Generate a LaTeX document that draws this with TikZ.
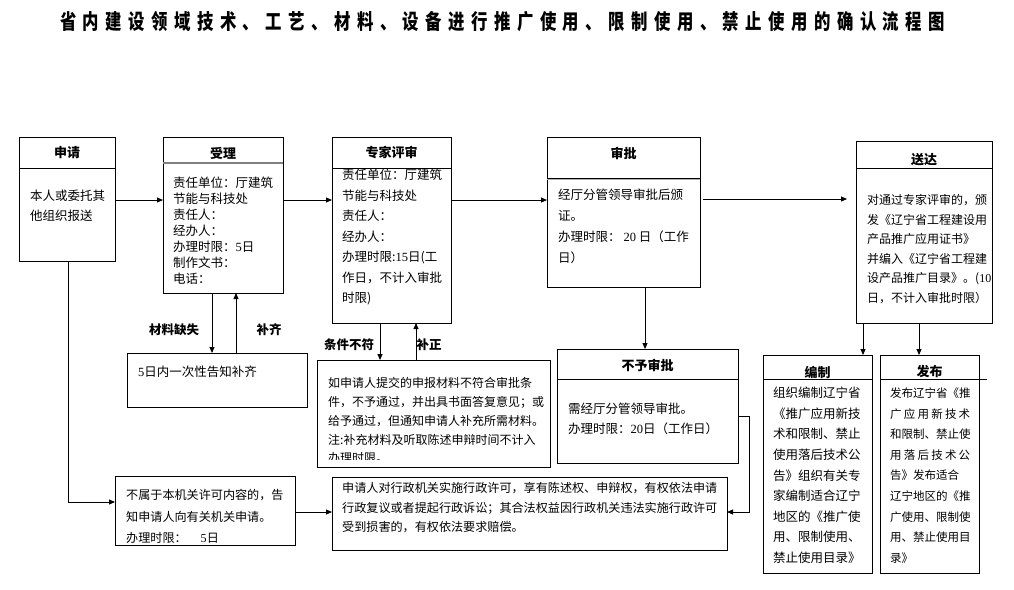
\documentclass[tikz,border=0pt]{standalone}
\usepackage{fontspec}
\usetikzlibrary{arrows.meta}
\newfontfamily\cjk{Noto Sans CJK SC}
\newfontfamily\numf{Liberation Serif}
\newfontfamily\titlef{Noto Sans CJK SC}[FakeStretch=0.78]
\newcommand\dg[1]{{\numf #1}}
\tikzset{
  bx/.style={draw, line width=1pt, anchor=north west, inner sep=0pt, outer sep=0pt},
  hline/.style={line width=1pt},
  hd/.style={font=\cjk\bfseries\fontsize{13pt}{13pt}\selectfont, inner sep=0pt},
  lab/.style={font=\cjk\bfseries\fontsize{12.5pt}{12.5pt}\selectfont, inner sep=0pt},
  txtb/.style n args={2}{anchor=north west, inner sep=0pt, align=left, font=\cjk\fontsize{#1pt}{#2pt}\selectfont},
  arr/.style={line width=0.9pt, -{Triangle[length=6pt,width=5pt]}},
  ln/.style={line width=0.9pt}
}
\begin{document}
\begin{tikzpicture}[x=1pt,y=-1pt]
\useasboundingbox (0,0) rectangle (1014,589);
% title
\node[font=\titlef\bfseries\fontsize{21pt}{21pt}\selectfont, inner sep=0pt] (title) at (502.5,22)
 {\hbox to 885pt{省\hfill 内\hfill 建\hfill 设\hfill 领\hfill 域\hfill 技\hfill 术\hfill 、\hfill 工\hfill 艺\hfill 、\hfill 材\hfill 料\hfill 、\hfill 设\hfill 备\hfill 进\hfill 行\hfill 推\hfill 广\hfill 使\hfill 用\hfill 、\hfill 限\hfill 制\hfill 使\hfill 用\hfill 、\hfill 禁\hfill 止\hfill 使\hfill 用\hfill 的\hfill 确\hfill 认\hfill 流\hfill 程\hfill 图}};

% boxes
\node[bx, minimum width=96pt, minimum height=124pt] (sq) at (19,137) {};
\node[bx, minimum width=120pt, minimum height=156pt] (sl) at (163,137) {};
\node[bx, minimum width=119pt, minimum height=186pt] (zj) at (332,137) {};
\node[bx, minimum width=153pt, minimum height=150pt] (sp) at (547,137) {};
\node[bx, minimum width=136pt, minimum height=182pt] (sd) at (856,141) {};
\node[bx, minimum width=180pt, minimum height=54pt] (bq) at (127,353) {};
\node[bx, minimum width=233pt, minimum height=107pt] (rq) at (317,360) {};
\node[bx, minimum width=181pt, minimum height=114pt] (by) at (557,349) {};
\node[bx, minimum width=109pt, minimum height=218pt] (bz) at (763,355) {};
\node[bx, minimum width=99pt, minimum height=218pt] (fb) at (880,355) {};
\node[bx, minimum width=180pt, minimum height=69pt] (bs) at (115,476) {};
\node[bx, minimum width=395pt, minimum height=73pt] (sr) at (332,477) {};

% header lines
\draw[hline] (sq.west |- 0,168) -- (sq.east |- 0,168);
\draw[line width=1.6pt, gray] (sl.west |- 0,163) -- (sl.east |- 0,163);
\draw[hline] (zj.west |- 0,168) -- (zj.east |- 0,168);
\draw[hline] (sp.west |- 0,178) -- (sp.east |- 0,178);
\draw[line width=0.8pt, gray!60] (sp.west |- 0,179.5) -- (sp.east |- 0,179.5);
\draw[hline] (sd.west |- 0,168) -- (sd.east |- 0,168);
\draw[hline] (by.west |- 0,379) -- (by.east |- 0,379);
\draw[hline] (bz.west |- 0,379) -- (bz.east |- 0,379);
\draw[hline] (fb.west |- 0,379) -- (987,379);

% header titles
\node[hd] (sqH) at (67,153) {申请};
\node[hd] (slH) at (223,153) {受理};
\node[hd] (zjH) at (391.5,153) {专家评审};
\node[hd] (spH) at (623.5,153) {审批};
\node[hd] (sdH) at (924,160) {送达};
\node[hd] (byH) at (647.5,365) {不予审批};
\node[hd] (bzH) at (817.5,372) {编制};
\node[hd] (fbH) at (929.5,372) {发布};

% body texts
\node[txtb={12.5}{19.3}] (sqT) at (30,190) {本人或委托其\\他组织报送};
\node[txtb={12.5}{16}] (slT) at (173,177) {责任单位：厅建筑\\节能与科技处\\责任人：\\经办人：\\办理时限：\dg{5}日\\制作文书：\\电话：};
\node[txtb={12.5}{20.5}] (zjT) at (342,169) {责任单位：厅建筑\\节能与科技处\\责任人：\\经办人：\\办理时限:\dg{15}日(工\\作日，不计入审批\\时限)};
\node[txtb={12.5}{21}] (spT) at (558,189) {经厅分管领导审批后颁\\证。\\办理时限：\ \dg{20} 日（工作\\日）};
\node[txtb={12}{19.5}] (sdT) at (867,194.5) {对通过专家评审的，颁\\发《辽宁省工程建设用\\产品推广应用证书》\\并编入《辽宁省工程建\\设产品推广目录》。(\dg{10}\\日，不计入审批时限）};
\node[txtb={12.5}{16}] (bqT) at (138,366) {\dg{5}日内一次性告知补齐};
\begin{scope}
\clip (rq.north west) rectangle ([yshift=8pt]rq.south east);
\node[txtb={12}{18.75}] (rqT) at (328,377.5) {如申请人提交的申报材料不符合审批条\\件，不予通过，并出具书面答复意见；或\\给予通过，但通知申请人补充所需材料。\\注:补充材料及听取陈述申辩时间不计入\\办理时限。};
\end{scope}
\node[txtb={12.5}{20}] (byT) at (568,403) {需经厅分管领导审批。\\办理时限：\dg{20}日（工作日）};
\node[txtb={12.5}{20.6}] (bzT) at (773,387) {组织编制辽宁省\\《推广应用新技\\术和限制、禁止\\使用落后技术公\\告》组织有关专\\家编制适合辽宁\\地区的《推广使\\用、限制使用、\\禁止使用目录》};
\node[txtb={11.5}{20.6}] (fbT) at (890,387.5) {发布辽宁省《推\\\makebox[80pt][s]{广 应 用 新 技 术}\\和限制、禁止使\\\makebox[80pt][s]{用 落 后 技 术 公}\\告》发布适合\\辽宁地区的《推\\广使用、限制使\\用、禁止使用目\\录》};
\node[txtb={12.1}{21.5}] (bsT) at (126,489.5) {不属于本机关许可内容的，告\\知申请人向有关机关申请。\\办理时限：\hspace{14pt}\dg{5}日};
\node[txtb={12.1}{19.5}] (srT) at (342,482.5) {申请人对行政机关实施行政许可，享有陈述权、申辩权，有权依法申请\\行政复议或者提起行政诉讼；其合法权益因行政机关违法实施行政许可\\受到损害的，有权依法要求赔偿。};

% labels
\node[lab] (l1) at (174,330) {材料缺失};
\node[lab] (l2) at (269,330) {补齐};
\node[lab] (l3) at (349,345) {条件不符};
\node[lab] (l4) at (429,345) {补正};

% connectors
\draw[arr] (sq.east |- 0,200) -- (sl.west |- 0,200);
\draw[arr] (sl.east |- 0,200) -- (zj.west |- 0,200);
\draw[arr] (zj.east |- 0,200) -- (sp.west |- 0,200);
\draw[arr, shorten <=3pt, shorten >=9pt] (sp.east |- 0,199) -- (sd.west |- 0,199);
\draw[arr] (sq.south -| 68,0) |- (bs.west |- 0,502);
\draw[arr] (sl.south -| 212,0) -- (bq.north -| 212,0);
\draw[arr] (bq.north -| 236,0) -- (sl.south -| 236,0);
\draw[arr] (zj.south -| 380,0) -- (rq.north -| 380,0);
\draw[arr] (rq.north -| 416,0) -- (zj.south -| 416,0);
\draw[arr] (sp.south -| 645,0) -- (by.north -| 645,0);
\draw[arr] (sd.south -| 863,0) -- (bz.north -| 863,0);
\draw[arr] (sd.south -| 919,0) -- (fb.north -| 919,0);
\draw[arr] (by.east |- 0,416) -- ++(11,0) |- (sr.east |- 0,512);
\draw[arr] (bs.east |- 0,512) -- (sr.west |- 0,512);
\end{tikzpicture}
\end{document}
